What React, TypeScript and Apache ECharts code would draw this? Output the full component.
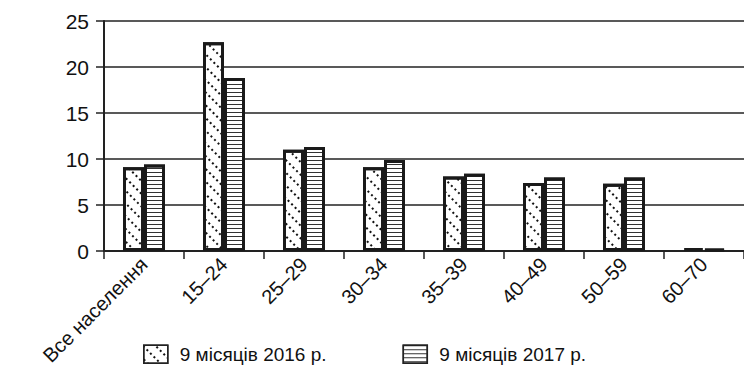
import React, { useEffect, useRef } from "react";
import * as echarts from "echarts";

const categories = ["Все населення", "15–24", "25–29", "30–34", "35–39", "40–49", "50–59", "60–70"];
const series2016 = [9.1, 22.7, 11.0, 9.1, 8.1, 7.4, 7.3, 0.3];
const series2017 = [9.4, 18.8, 11.3, 9.9, 8.4, 8.0, 8.0, 0.2];
const yTicks = { min: 0, max: 25, interval: 5 };
const seriesNames = ["9 місяців 2016 р.", "9 місяців 2017 р."];

const FONT = "'Liberation Sans', Arial, sans-serif";

export default function App() {
  const ref = useRef<HTMLDivElement>(null);
  useEffect(() => {
    if (!ref.current) return;
    const chart = echarts.init(ref.current, undefined, { renderer: "svg" });
    const dotted = {
      symbol: "rect",
      symbolSize: 1,
      color: "#111",
      dashArrayX: [1.2, 2.8],
      dashArrayY: [1.2, 7],
      rotation: Math.PI / 4,
    };
    const striped = {
      symbol: "rect",
      symbolSize: 1,
      color: "#333",
      dashArrayX: [1, 0],
      dashArrayY: [1, 2.6],
      rotation: 0,
    };
    chart.setOption({
      animation: false,
      backgroundColor: "#fff",
      textStyle: { fontFamily: FONT },
      grid: { left: 104, right: -10, top: 21, bottom: 121, containLabel: false },
      legend: {
        bottom: 3,
        left: 138,
        icon: "rect",
        itemWidth: 24,
        itemHeight: 18,
        itemGap: 76,
        itemStyle: { borderWidth: 1.5, borderColor: "#222" },
        textStyle: { fontSize: 19, color: "#111", fontFamily: FONT, padding: [0, 0, 0, 7] },
        data: seriesNames,
      },
      xAxis: {
        type: "category",
        data: categories,
        axisLine: { lineStyle: { color: "#222", width: 2 } },
        axisTick: { show: true, length: 8, lineStyle: { color: "#222", width: 1.5 } },
        axisLabel: { rotate: 45, fontSize: 20, color: "#111", margin: 10, interval: 0, fontFamily: FONT },
      },
      yAxis: {
        type: "value",
        min: yTicks.min,
        max: yTicks.max,
        interval: yTicks.interval,
        axisLine: { show: true, lineStyle: { color: "#222", width: 2 } },
        axisTick: { show: true, length: 8, lineStyle: { color: "#222", width: 1.5 } },
        axisLabel: { fontSize: 21, color: "#111", margin: 15, fontFamily: FONT },
        splitLine: { show: true, lineStyle: { color: "#222", width: 1.5 } },
      },
      series: [
        {
          name: seriesNames[0],
          type: "bar",
          data: series2016,
          barWidth: 21,
          barGap: "0%",
          itemStyle: { color: "#fff", borderColor: "#1a1a1a", borderWidth: 3, decal: dotted },
        },
        {
          name: seriesNames[1],
          type: "bar",
          data: series2017,
          barWidth: 21,
          barGap: "0%",
          itemStyle: { color: "#fff", borderColor: "#1a1a1a", borderWidth: 3, decal: striped },
        },
      ],
    });
    return () => chart.dispose();
  }, []);
  return <div ref={ref} style={{ width: 744, height: 372, position: "absolute", left: 0, top: 0 }} />;
}
